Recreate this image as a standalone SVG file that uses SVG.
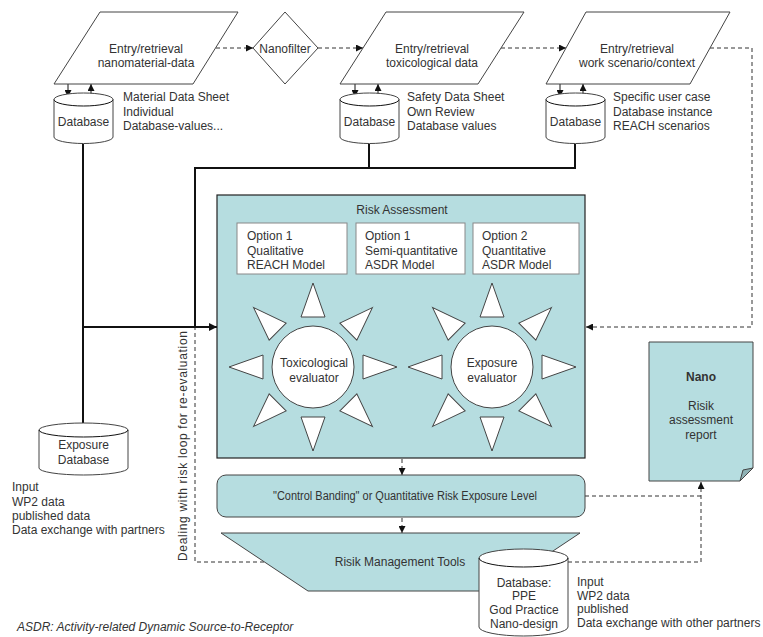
<svg xmlns="http://www.w3.org/2000/svg" width="763" height="637" viewBox="0 0 763 637">
<defs>
<style>
text{font-family:"Liberation Sans",Arial,sans-serif;font-size:12px;fill:#333}
.c{text-anchor:middle}
.w{fill:#fff;stroke:#444;stroke-width:1}
.t{fill:#b6dde0;stroke:#444;stroke-width:1}
.ob{fill:#fff;stroke:#888;stroke-width:1}
.tri{fill:#fff;stroke:#444;stroke-width:1}
.thick{fill:none;stroke:#111;stroke-width:2}
.thin{fill:none;stroke:#111;stroke-width:1}
.dash{fill:none;stroke:#333;stroke-width:1;stroke-dasharray:4,3}
</style>
<marker id="ah" viewBox="0 0 10 10" refX="10" refY="5" markerWidth="9" markerHeight="8" markerUnits="userSpaceOnUse" orient="auto"><path d="M0,0 L10,5 L0,10 Z" fill="#111"/></marker>
<marker id="as" viewBox="0 0 10 10" refX="10" refY="5" markerWidth="7" markerHeight="7" markerUnits="userSpaceOnUse" orient="auto"><path d="M0,0 L10,5 L0,10 Z" fill="#111"/></marker>
<polygon id="ray" points="0,-84 -12,-50 12,-50"/>
</defs>
<rect width="763" height="637" fill="#fff"/>

<g id="connectors">
<path class="dash" d="M216,48 H253" marker-end="url(#as)"/>
<path class="dash" d="M318,48 H363" marker-end="url(#as)"/>
<path class="dash" d="M501,48 H566" marker-end="url(#as)"/>
<path class="dash" d="M710,48 H752 V327 H586" marker-end="url(#as)"/>
<path class="thin" d="M68,84 V97" marker-end="url(#as)"/>
<path class="thin" d="M91,106 V84" marker-end="url(#as)"/>
<path class="thin" d="M355,84 V97" marker-end="url(#as)"/>
<path class="thin" d="M378,106 V84" marker-end="url(#as)"/>
<path class="thin" d="M560,84 V97" marker-end="url(#as)"/>
<path class="thin" d="M583,106 V84" marker-end="url(#as)"/>
<path class="thick" d="M83,144 V423"/>
<path class="thick" d="M369,144 V168"/>
<path class="thick" d="M575,144 V168 H195 V327"/>
<path class="dash" d="M264,562 H195 V328"/>
<path class="thick" d="M83,327 H217" marker-end="url(#ah)"/>
<path class="dash" d="M402,459 V475" marker-end="url(#as)"/>
<path class="dash" d="M402,518 V533" marker-end="url(#as)"/>
<path class="dash" d="M585,496 H701"/>
<path class="dash" d="M568,562 H701 V482" marker-end="url(#as)"/>
</g>

<g id="entry-nanomaterial">
<polygon class="w" points="100,12 238,12 193,84 54,84"/>
<text class="c" x="146" y="53">Entry/retrieval</text>
<text class="c" x="146" y="67">nanomaterial-data</text>
</g>
<g id="nanofilter">
<polygon class="w" points="285,12 318,48 285,84 253,48"/>
<text class="c" x="285" y="53">Nanofilter</text>
</g>
<g id="entry-toxicological">
<polygon class="w" points="386,12 524,12 478,84 340,84"/>
<text class="c" x="432" y="53">Entry/retrieval</text>
<text class="c" x="432" y="67">toxicological data</text>
</g>
<g id="entry-work">
<polygon class="w" points="586,12 730,12 690,84 546,84"/>
<text class="c" x="637" y="53">Entry/retrieval</text>
<text class="c" x="637" y="67">work scenario/context</text>
</g>

<g id="db1">
<path class="w" d="M54,99.5 A29.5,6.5 0 0 1 113,99.5 V137 A29.5,6.5 0 0 1 54,137 Z"/>
<path class="thin" d="M54,99.5 A29.5,6.5 0 0 0 113,99.5" stroke="#444"/>
<text class="c" x="83.5" y="126">Database</text>
<text x="123" y="101">Material Data Sheet</text>
<text x="123" y="116">Individual</text>
<text x="123" y="130">Database-values...</text>
</g>
<g id="db2">
<path class="w" d="M340,99.5 A29.5,6.5 0 0 1 399,99.5 V137 A29.5,6.5 0 0 1 340,137 Z"/>
<path class="thin" d="M340,99.5 A29.5,6.5 0 0 0 399,99.5" stroke="#444"/>
<text class="c" x="369.5" y="126">Database</text>
<text x="407" y="101">Safety Data Sheet</text>
<text x="407" y="116">Own Review</text>
<text x="407" y="130">Database values</text>
</g>
<g id="db3">
<path class="w" d="M546,99.5 A29.5,6.5 0 0 1 605,99.5 V137 A29.5,6.5 0 0 1 546,137 Z"/>
<path class="thin" d="M546,99.5 A29.5,6.5 0 0 0 605,99.5" stroke="#444"/>
<text class="c" x="575.5" y="126">Database</text>
<text x="613" y="101">Specific user case</text>
<text x="613" y="116">Database instance</text>
<text x="613" y="130">REACH scenarios</text>
</g>

<g id="risk-assessment">
<rect x="217" y="195" width="368" height="263" fill="#b6dde0" stroke="#222" stroke-width="1.2"/>
<text class="c" x="402" y="214">Risk Assessment</text>
<rect class="ob" x="237" y="223" width="110" height="51"/>
<text x="247" y="240">Option 1</text>
<text x="247" y="255">Qualitative</text>
<text x="247" y="269">REACH Model</text>
<rect class="ob" x="356" y="223" width="109" height="51"/>
<text x="365" y="240">Option 1</text>
<text x="365" y="255">Semi-quantitative</text>
<text x="365" y="269">ASDR Model</text>
<rect class="ob" x="473" y="223" width="106" height="51"/>
<text x="482" y="240">Option 2</text>
<text x="482" y="255">Quantitative</text>
<text x="482" y="269">ASDR Model</text>
</g>

<g id="toxicological-evaluator">
<g transform="translate(313,367)">
<use href="#ray" class="tri"/>
<use href="#ray" class="tri" transform="rotate(45)"/>
<use href="#ray" class="tri" transform="rotate(90)"/>
<use href="#ray" class="tri" transform="rotate(135)"/>
<use href="#ray" class="tri" transform="rotate(180)"/>
<use href="#ray" class="tri" transform="rotate(225)"/>
<use href="#ray" class="tri" transform="rotate(270)"/>
<use href="#ray" class="tri" transform="rotate(315)"/>
<circle r="41" class="tri"/>
</g>
<text class="c" x="314" y="367">Toxicological</text>
<text class="c" x="314" y="382">evaluator</text>
</g>
<g id="exposure-evaluator">
<g transform="translate(492,367)">
<use href="#ray" class="tri"/>
<use href="#ray" class="tri" transform="rotate(45)"/>
<use href="#ray" class="tri" transform="rotate(90)"/>
<use href="#ray" class="tri" transform="rotate(135)"/>
<use href="#ray" class="tri" transform="rotate(180)"/>
<use href="#ray" class="tri" transform="rotate(225)"/>
<use href="#ray" class="tri" transform="rotate(270)"/>
<use href="#ray" class="tri" transform="rotate(315)"/>
<circle r="41" class="tri"/>
</g>
<text class="c" x="492" y="367">Exposure</text>
<text class="c" x="492" y="382">evaluator</text>
</g>

<g id="control-banding">
<rect class="t" x="217" y="475" width="368" height="42" rx="9" stroke="#555"/>
<text class="c" x="405" y="500" textLength="264" lengthAdjust="spacingAndGlyphs">"Control Banding" or Quantitative Risk Exposure Level</text>
</g>

<g id="risk-management">
<polygon class="t" points="221,533 580,533 493,591 308,591" stroke="#555"/>
<text class="c" x="400" y="566">Risik Management Tools</text>
</g>

<g id="db-ppe">
<path class="w" d="M479,558 A44.5,9 0 0 1 568,558 V627 A44.5,9 0 0 1 479,627 Z"/>
<path class="thin" d="M479,558 A44.5,9 0 0 0 568,558" stroke="#444"/>
<text class="c" x="524" y="587">Database:</text>
<text class="c" x="524" y="600">PPE</text>
<text class="c" x="524" y="614">God Practice</text>
<text class="c" x="524" y="628">Nano-design</text>
<text x="577" y="586">Input</text>
<text x="577" y="600">WP2 data</text>
<text x="577" y="613">published</text>
<text x="577" y="627">Data exchange with other partners</text>
</g>

<g id="exposure-db">
<path class="w" d="M39,430 A44.5,7 0 0 1 128,430 V468 A44.5,7 0 0 1 39,468 Z"/>
<path class="thin" d="M39,430 A44.5,7 0 0 0 128,430" stroke="#444"/>
<text class="c" x="83.5" y="449">Exposure</text>
<text class="c" x="83.5" y="464">Database</text>
<text x="12" y="491">Input</text>
<text x="12" y="506">WP2 data</text>
<text x="12" y="520">published data</text>
<text x="12" y="534">Data exchange with partners</text>
</g>

<g id="report">
<path class="t" d="M649,342 H753 V468 L740,481 H649 Z"/>
<path d="M753,468 L740,481 L743,470 Z" fill="#8fb2b5" stroke="#444" stroke-width="1"/>
<text class="c" x="701" y="381" font-weight="bold">Nano</text>
<text class="c" x="701" y="410">Risik</text>
<text class="c" x="701" y="424">assessment</text>
<text class="c" x="701" y="439">report</text>
</g>

<text class="c" transform="translate(187,446) rotate(-90)" textLength="230" lengthAdjust="spacing">Dealing with risk loop for re-evaluation</text>
<text x="17" y="631" font-style="italic">ASDR: Activity-related Dynamic Source-to-Receptor</text>
</svg>
